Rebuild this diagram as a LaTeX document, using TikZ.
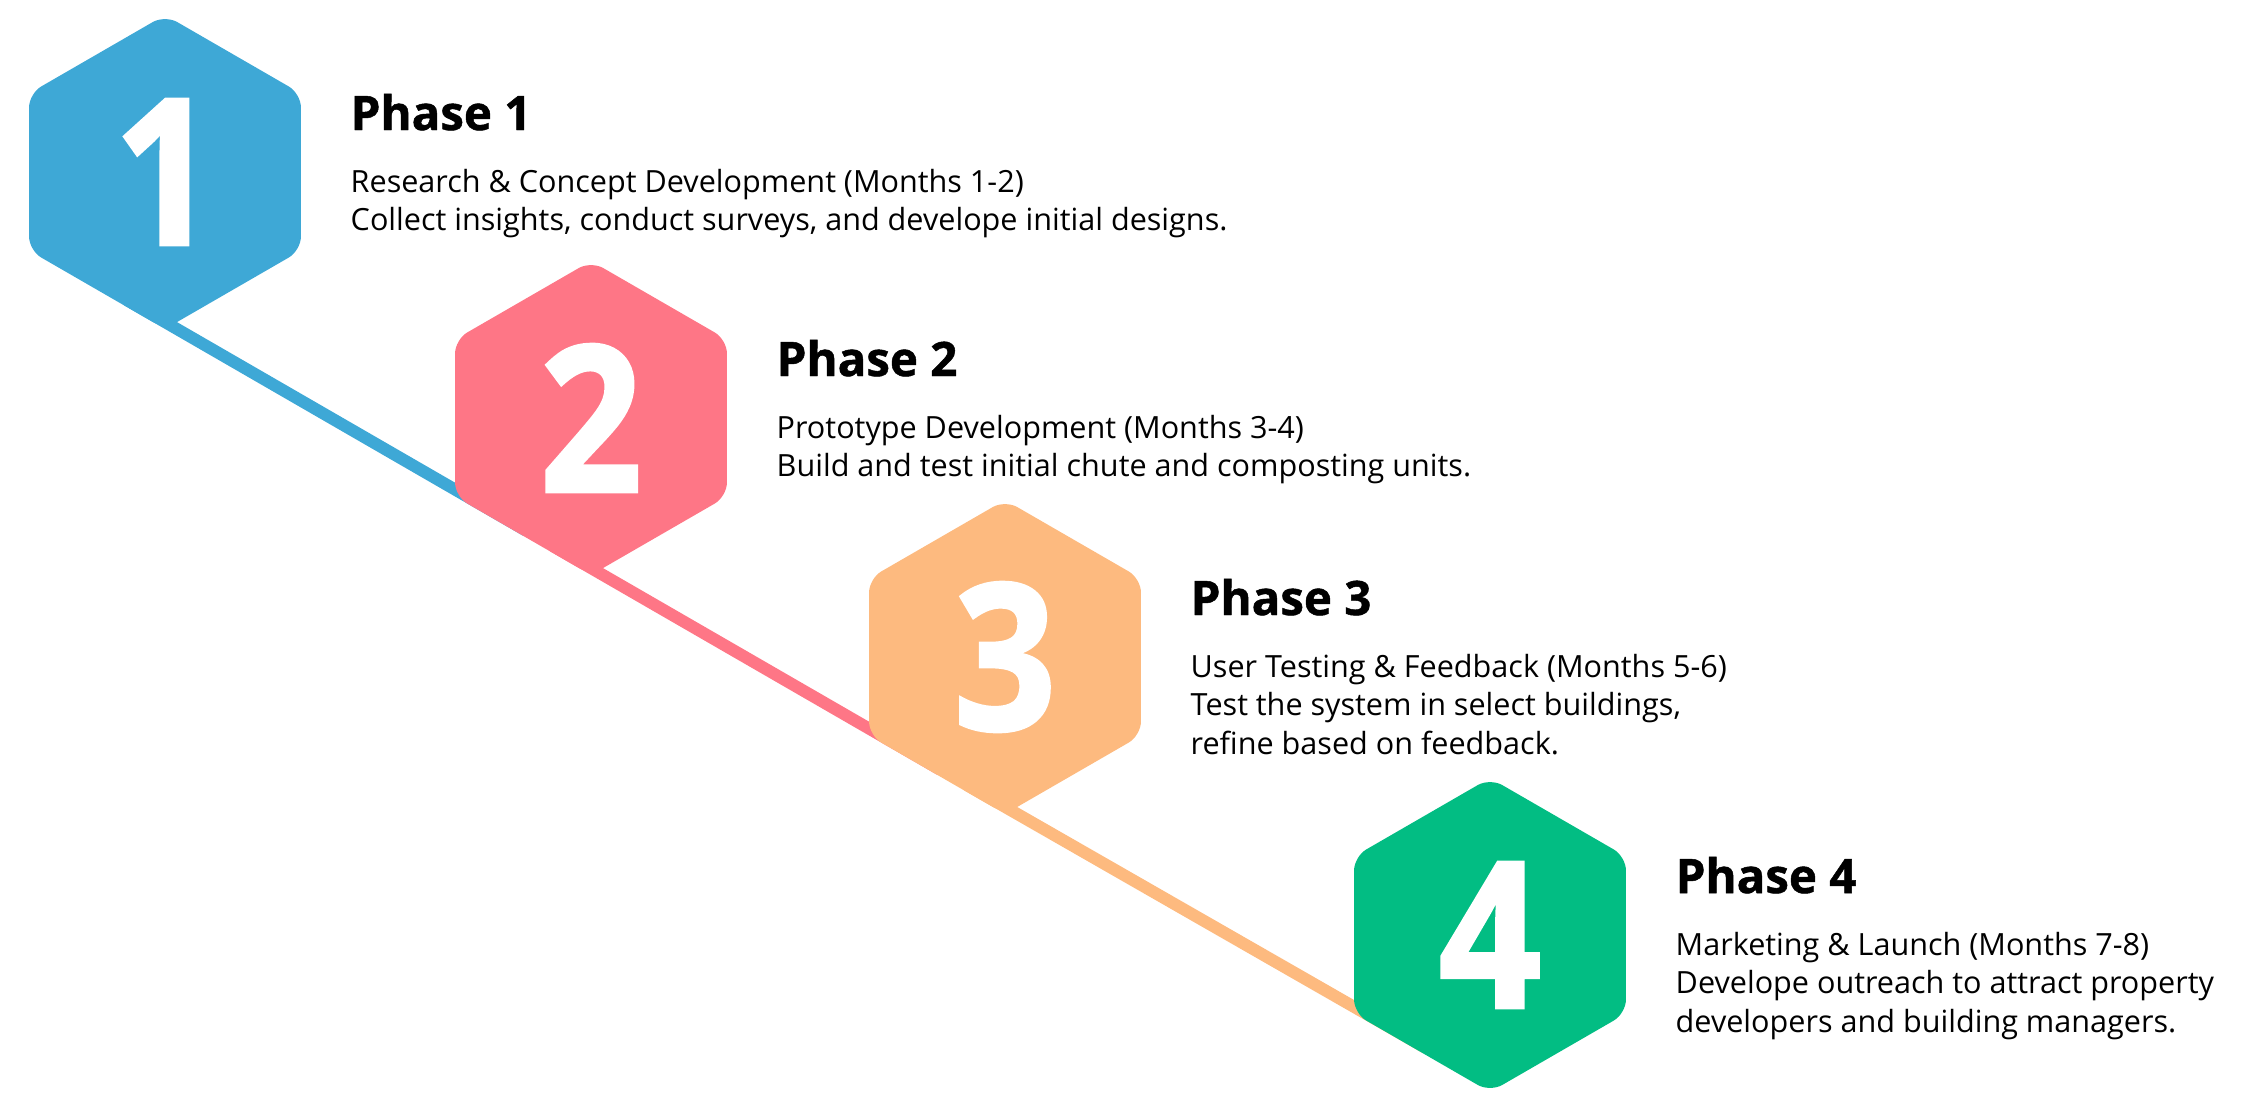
\documentclass[tikz,border=0pt]{standalone}
\usepackage{fontspec}
\setmainfont{Open Sans}
\newfontfamily\numfont{Open Sans}[FakeStretch=0.88, BoldFeatures={FakeBold=1.5}]
\newfontfamily\headfont{Open Sans}[BoldFeatures={FakeBold=1}]
\usetikzlibrary{shapes.geometric,calc,backgrounds}

\definecolor{phaseblue}{HTML}{3EA8D6}
\definecolor{phasepink}{HTML}{FE7686}
\definecolor{phaseorange}{HTML}{FDBA7F}
\definecolor{phasegreen}{HTML}{02BD83}

\begin{document}
\begin{tikzpicture}[
    hexnode/.style={
        regular polygon,
        regular polygon sides=6,
        shape border rotate=30,
        minimum size=3.14cm,
        inner sep=0pt,
        outer sep=0pt,
        rounded corners=4pt,
        text=white,
        font=\numfont\bfseries\fontsize{58}{58}\selectfont
    },
    phasetitle/.style={
        anchor=base west,
        inner sep=0pt,
        font=\headfont\bfseries\fontsize{13.5}{16}\selectfont
    },
    phasetext/.style={
        anchor=base west,
        inner sep=0pt,
        font=\fontsize{8.7}{11}\selectfont
    },
    track/.style={line width=1.2mm}
]

\useasboundingbox (0,0) rectangle (22.55,-11.17);

\node[hexnode, fill=phaseblue] (hex1) at (1.65,-1.72) {1};
\node[hexnode, fill=phasepink] (hex2) at (5.91,-4.18) {2};
\node[hexnode, fill=phaseorange] (hex3) at (10.05,-6.57) {3};
\node[hexnode, fill=phasegreen] (hex4) at (14.90,-9.35) {4};

% track behind the hexagons
\begin{pgfonlayer}{background}
\foreach \a/\b/\c in {1/2/phaseblue, 2/3/phasepink, 3/4/phaseorange}
    \draw[track, \c] ($(hex\a.corner 4)!0.3!(hex\a.corner 3)+(60:0.6mm)$)
        -- ($(hex\b.corner 3)!0.5!(hex\b.corner 4)+(60:0.6mm)$);
\end{pgfonlayer}

\node[phasetitle] (title1) at ($(hex1.center)+(1.85,0.42)$) {Phase 1};
\node[phasetext] (text1) at ($(hex1.center)+(1.85,-0.20)$)
    {\begin{tabular}[t]{@{}l@{}}Research \& Concept Development (Months 1-2)\\Collect insights, conduct surveys, and develope initial designs.\end{tabular}};

\node[phasetitle] (title2) at ($(hex2.center)+(1.85,0.42)$) {Phase 2};
\node[phasetext] (text2) at ($(hex2.center)+(1.85,-0.20)$)
    {\begin{tabular}[t]{@{}l@{}}Prototype Development (Months 3-4)\\Build and test initial chute and composting units.\end{tabular}};

\node[phasetitle] (title3) at ($(hex3.center)+(1.85,0.42)$) {Phase 3};
\node[phasetext] (text3) at ($(hex3.center)+(1.85,-0.20)$)
    {\begin{tabular}[t]{@{}l@{}}User Testing \& Feedback (Months 5-6)\\Test the system in select buildings,\\refine based on feedback.\end{tabular}};

\node[phasetitle] (title4) at ($(hex4.center)+(1.85,0.42)$) {Phase 4};
\node[phasetext] (text4) at ($(hex4.center)+(1.85,-0.20)$)
    {\begin{tabular}[t]{@{}l@{}}Marketing \& Launch (Months 7-8)\\Develope outreach to attract property\\developers and building managers.\end{tabular}};

\end{tikzpicture}
\end{document}
